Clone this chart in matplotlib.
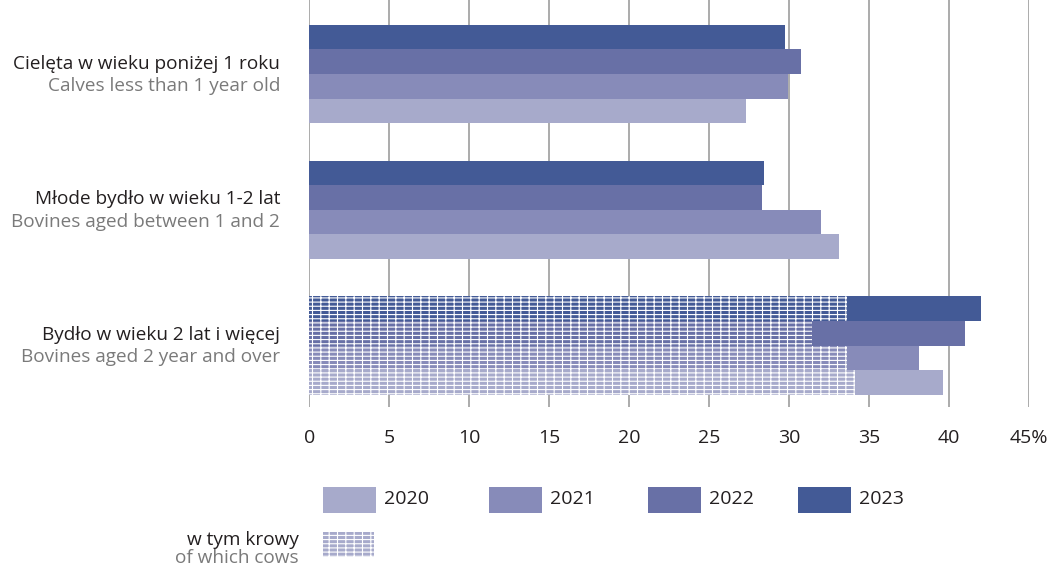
import matplotlib
matplotlib.use("Agg")
import matplotlib.pyplot as plt
from matplotlib.patches import Rectangle
import numpy as np

plt.rcParams['font.family'] = ['Open Sans', 'DejaVu Sans']
plt.rcParams['hatch.linewidth'] = 0.8

# Data
categories_pl = ["Cielęta w wieku poniżej 1 roku",
                 "Młode bydło w wieku 1-2 lat",
                 "Bydło w wieku 2 lat i więcej"]
categories_en = ["Calves less than 1 year old",
                 "Bovines aged between 1 and 2",
                 "Bovines aged 2 year and over"]
years = ["2020", "2021", "2022", "2023"]
share_2020 = [27.3, 33.1, 39.6]
share_2021 = [29.9, 32.0, 38.1]
share_2022 = [30.7, 28.3, 41.0]
share_2023 = [29.7, 28.4, 42.0]
cows_share = [34.1, 33.6, 31.4, 33.6]   # 2020, 2021, 2022, 2023 (of bovines aged 2+)
xticks = [0, 5, 10, 15, 20, 25, 30, 35, 40, 45]
xtick_labels = ["0", "5", "10", "15", "20", "25", "30", "35", "40", "45%"]

colors = ["#a7aacb", "#878bb9", "#6870a6", "#435a96"]
TEXT = "#231f20"
GREY_TEXT = "#7a7a7a"
FS = 14
FS_CAT = 13.7

W, H = 1049, 568
fig = plt.figure(figsize=(W / 100, H / 100), dpi=100)
ax = fig.add_axes([309.3 / W, 1 - 407 / H, 720 / W, 407 / H])

series = [share_2020, share_2021, share_2022, share_2023]
h = 0.181
offsets = [1.5 * h, 0.5 * h, -0.5 * h, -1.5 * h]
y = np.arange(len(categories_pl))

for vals, off, col in zip(series, offsets, colors):
    ax.barh(y + off, vals, height=h, color=col, linewidth=0, zorder=2)

# cows within bovines aged 2 years and over (hatched overlay)
for val, off, col in zip(cows_share, offsets, colors):
    ax.barh(2 + off, val, height=h, color=col, edgecolor="white",
            linewidth=0, hatch="----||", zorder=3)

ax.set_xlim(0, 45)
ax.set_ylim(2.453, -0.545)
ax.set_xticks(xticks)
ax.set_xticklabels(xtick_labels, fontsize=FS, color=TEXT)
ax.tick_params(axis="x", length=0, pad=16)
ax.set_yticks([])
for s in ax.spines.values():
    s.set_visible(False)
ax.grid(axis="x", color="#9d9d9d", linewidth=1.2, zorder=0)
ax.set_axisbelow(True)

# category labels
for i, (pl, en) in enumerate(zip(categories_pl, categories_en)):
    ax.annotate(pl, xy=(0, i), xycoords="data", xytext=(-21, 7.4),
                textcoords="offset points", ha="right", va="center",
                fontsize=FS_CAT, color=TEXT)
    ax.annotate(en, xy=(0, i), xycoords="data", xytext=(-21, -8.6),
                textcoords="offset points", ha="right", va="center",
                fontsize=FS_CAT, color=GREY_TEXT)

# legend
def fx(px):
    return px / W

def fy(py):
    return 1 - py / H

patch_x = [323, 489, 648, 798]
for px, col, yr in zip(patch_x, colors, years):
    fig.add_artist(Rectangle((fx(px), fy(512.5)), 52.5 / W, 26 / H,
                             transform=fig.transFigure, facecolor=col,
                             linewidth=0))
    fig.text(fx(px + 61), fy(499), yr, ha="left", va="center",
             fontsize=FS, color=TEXT)

fig.add_artist(Rectangle((fx(322.5), fy(557)), 51 / W, 25 / H,
                         transform=fig.transFigure, facecolor=colors[0],
                         edgecolor="white", linewidth=0, hatch="----||"))
fig.text(fx(299), fy(540), "w tym krowy", ha="right", va="center",
         fontsize=FS_CAT, color=TEXT)
fig.text(fx(299), fy(558), "of which cows", ha="right", va="center",
         fontsize=FS_CAT, color=GREY_TEXT)

fig.savefig("out.png", dpi=100)
